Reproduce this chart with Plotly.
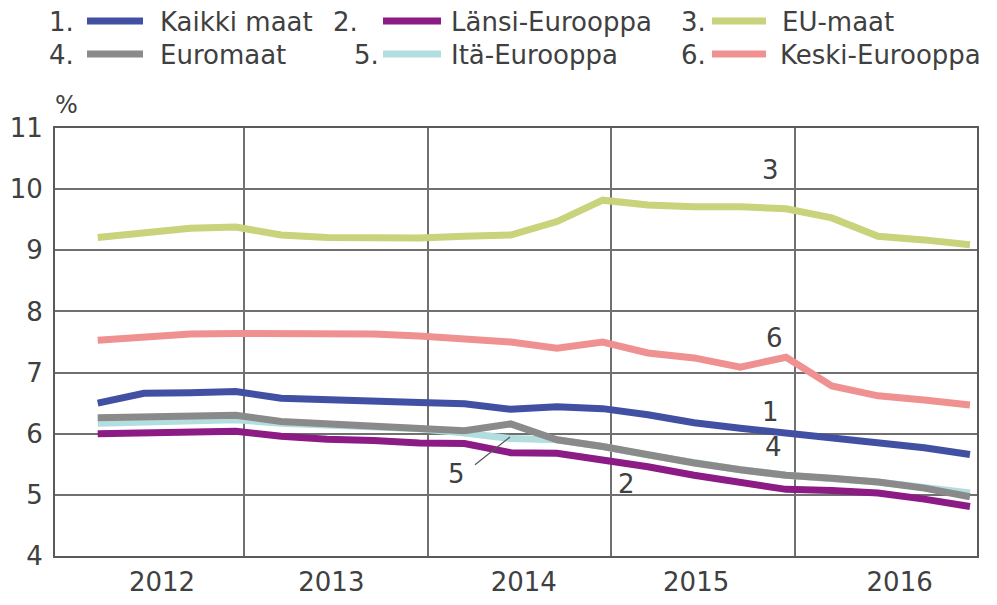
import plotly.graph_objects as go

# Quarterly observations 2012-2016 (plotted mid-month of each quarter's last month)
years = [2012, 2013, 2014, 2015, 2016]
quarter_months = [3, 6, 9, 12]
quarters = [f"{y}-{m:02d}-15" for y in years for m in quarter_months]

kaikki_maat = [6.50, 6.66, 6.67, 6.69, 6.58, 6.55, 6.54, 6.51, 6.49, 6.40,
               6.44, 6.41, 6.31, 6.18, 6.09, 6.01, 5.95, 5.85, 5.77, 5.66]
lansi_eurooppa = [6.00, 6.01, 6.04, 6.04, 5.96, 5.91, 5.89, 5.85, 5.84, 5.69,
                  5.68, 5.57, 5.46, 5.32, 5.19, 5.09, 5.07, 5.03, 4.93, 4.81]
eu_maat = [9.21, 9.28, 9.36, 9.38, 9.25, 9.21, 9.21, 9.20, 9.23, 9.25,
           9.47, 9.82, 9.74, 9.71, 9.71, 9.68, 9.53, 9.23, 9.17, 9.09]
euromaat = [6.26, 6.27, 6.29, 6.30, 6.20, 6.16, 6.14, 6.09, 6.05, 6.16,
            5.90, 5.79, 5.65, 5.52, 5.41, 5.32, 5.27, 5.21, 5.11, 4.97]
ita_eurooppa = [6.17, 6.19, 6.22, 6.23, 6.17, 6.14, 6.13, 6.08, 6.01, 5.92,
                5.90, 5.79, 5.65, 5.52, 5.41, 5.32, 5.26, 5.21, 5.12, 5.03]
keski_eurooppa = [7.53, 7.58, 7.63, 7.64, 7.64, 7.63, 7.63, 7.60, 7.55, 7.50,
                  7.40, 7.50, 7.32, 7.24, 7.09, 7.25, 6.78, 6.62, 6.55, 6.47]

# year label anchors on the x axis (labels are not evenly centred in the original)
year_label_dates = ["2012-07-21", "2013-06-23", "2014-07-11", "2015-06-19", "2016-07-28"]
year_labels = [str(y) for y in years]
# vertical grid only between years (no line right next to the left axis)
year_breaks = [f"{y}-01-01" for y in years[1:]]

FONT = "DejaVu Sans"
TEXT = "#404040"


def build_figure():
    """Line chart of six country groups with a hand-made numbered legend."""
    series = {
        1: ("Kaikki maat", kaikki_maat, "#4150a3"),
        2: ("Länsi-Eurooppa", lansi_eurooppa, "#8c1b86"),
        3: ("EU-maat", eu_maat, "#c8d37b"),
        4: ("Euromaat", euromaat, "#8a8a8a"),
        5: ("Itä-Eurooppa", ita_eurooppa, "#b3dee0"),
        6: ("Keski-Eurooppa", keski_eurooppa, "#f09191"),
    }

    fig = go.Figure()

    # light blue goes under the grey one, like in the original
    for num in [3, 6, 1, 5, 4, 2]:
        name, vals, color = series[num]
        fig.add_trace(go.Scatter(
            x=quarters, y=vals, mode="lines", name=name,
            line=dict(color=color, width=7),
            hoverinfo="x+y+name",
        ))

    # numbered legend on top (page pixels): num, number right x, line x0, x1, text x, row y
    legend_items = [
        (1, 76, 87, 143, 158, 22),
        (2, 360, 383, 441, 449, 22),
        (3, 708, 712, 766, 780, 22),
        (4, 76, 87, 143, 158, 55),
        (5, 381, 383, 441, 449, 55),
        (6, 708, 712, 766, 778, 55),
    ]
    px = lambda p: (p - 55) / 922
    py = lambda p: (556 - p) / 428
    for num, nx, lx0, lx1, tx, ry in legend_items:
        name, _, color = series[num]
        fig.add_annotation(x=px(nx), y=py(ry), xref="paper", yref="paper",
                           text=f"{num}.", showarrow=False,
                           xanchor="right", yanchor="middle",
                           font=dict(family=FONT, size=26, color=TEXT))
        fig.add_shape(type="line", xref="paper", yref="paper",
                      x0=px(lx0), x1=px(lx1), y0=py(ry - 1), y1=py(ry - 1),
                      line=dict(color=color, width=7))
        fig.add_annotation(x=px(tx), y=py(ry), xref="paper", yref="paper",
                           text=name, showarrow=False,
                           xanchor="left", yanchor="middle",
                           font=dict(family=FONT, size=26, color=TEXT))

    # series number labels inside the plot
    labels = [("3", 0.7755, 0.902), ("6", 0.780, 0.509), ("1", 0.7755, 0.336),
              ("4", 0.779, 0.255), ("2", 0.620, 0.168), ("5", 0.436, 0.192)]
    for txt, x, y in labels:
        fig.add_annotation(x=x, y=y, xref="paper", yref="paper", text=txt,
                           showarrow=False, xanchor="center", yanchor="middle",
                           font=dict(family=FONT, size=26, color=TEXT))
    # leader line for "5"
    fig.add_shape(type="line", xref="paper", yref="paper",
                  x0=0.4555, y0=0.213, x1=0.4935, y1=0.278,
                  line=dict(color="#555555", width=1.2))

    fig.add_annotation(x=0.013, y=1.054, xref="paper", yref="paper", text="%",
                       showarrow=False, xanchor="center", yanchor="middle",
                       font=dict(family=FONT, size=24, color=TEXT))

    # page body adds 8px around the figure, so margins are trimmed by that
    fig.update_layout(
        width=997, height=605,
        margin=dict(l=47, r=28, t=120, b=57),
        paper_bgcolor="white", plot_bgcolor="white",
        showlegend=False,
        font=dict(family=FONT, size=26, color=TEXT),
        xaxis=dict(
            type="date", automargin=False,
            range=["2011-12-21", "2016-12-29"],
            tickmode="array", tickvals=year_label_dates, ticktext=year_labels,
            showgrid=False, ticks="", ticklabelstandoff=2,
            minor=dict(tickmode="array", tickvals=year_breaks, showgrid=True,
                       gridcolor="#707070", gridwidth=1.5, ticks=""),
            showline=True, linecolor="#5a5a5a", linewidth=2, mirror=True,
            zeroline=False,
            tickfont=dict(family=FONT, size=26, color=TEXT),
        ),
        yaxis=dict(
            range=[4, 11], dtick=1, tick0=4, automargin=False,
            showgrid=True, gridcolor="#707070", gridwidth=1.5,
            showline=True, linecolor="#5a5a5a", linewidth=2, mirror=True,
            zeroline=False, ticks="", ticklabelstandoff=5,
            tickfont=dict(family=FONT, size=26, color=TEXT),
        ),
    )
    return fig


if __name__ == "__main__":
    fig = build_figure()
    fig.write_html("out.html")
